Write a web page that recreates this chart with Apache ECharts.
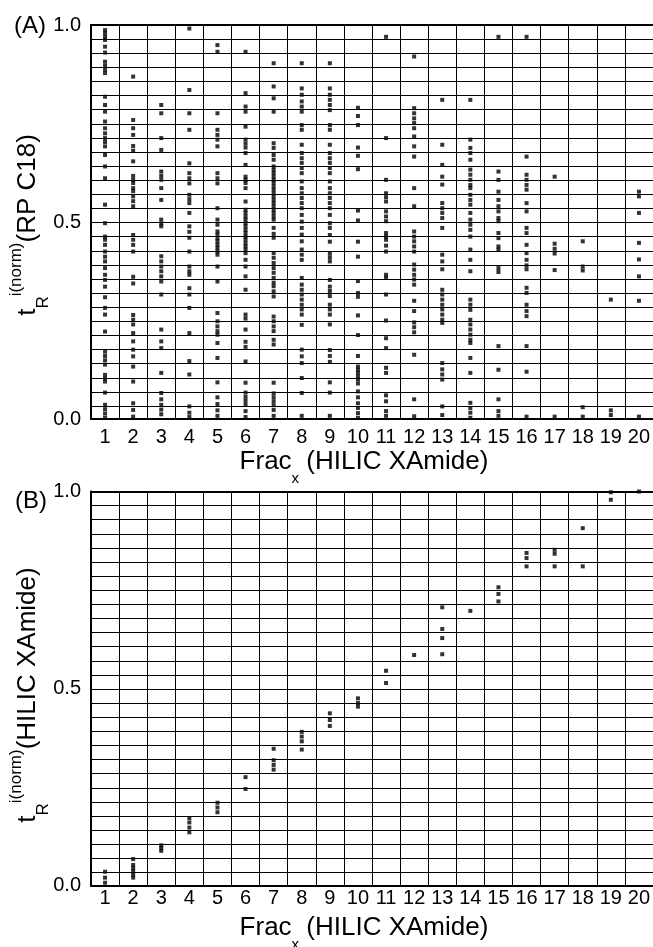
<!DOCTYPE html>
<html lang="en">
  <head>
    <meta charset="UTF-8" />
    <title>normalised retention vs HILIC fraction</title>
    <script src="https://cdn.jsdelivr.net/npm/echarts@6/dist/echarts.min.js"></script>
    <style>
      html, body { margin: 0; padding: 0; background: #fff; }
      #main { width: 653px; height: 947px; }
    </style>
  </head>
  <body>
    <div id="main"></div>
    <script>
      // HILIC XAmide fractions (x categories)
      var fracs = ['1', '2', '3', '4', '5', '6', '7', '8', '9', '10',
        '11', '12', '13', '14', '15', '16', '17', '18', '19', '20'];
      var yTickLabels = ['0.0', '0.5', '1.0'];

      // (A) normalised RP C18 retention of the peptides in each fraction
      var rpA = [
        [0.987, 0.979, 0.970, 0.962, 0.945, 0.930, 0.907, 0.897, 0.887, 0.878, 0.818, 0.797, 0.780, 0.755, 0.738, 0.725, 0.713, 0.703, 0.692, 0.670, 0.641, 0.611, 0.544, 0.497, 0.463, 0.455, 0.442, 0.425, 0.412, 0.400, 0.383, 0.366, 0.353, 0.336, 0.309, 0.282, 0.265, 0.222, 0.171, 0.160, 0.149, 0.138, 0.112, 0.103, 0.095, 0.067, 0.036, 0.025, 0.014, 0.003],
        [0.869, 0.759, 0.738, 0.721, 0.693, 0.681, 0.654, 0.617, 0.607, 0.599, 0.586, 0.578, 0.565, 0.553, 0.540, 0.467, 0.455, 0.442, 0.425, 0.361, 0.344, 0.264, 0.252, 0.240, 0.218, 0.197, 0.176, 0.159, 0.133, 0.095, 0.040, 0.023, 0.006],
        [0.797, 0.776, 0.713, 0.683, 0.628, 0.617, 0.607, 0.586, 0.556, 0.506, 0.496, 0.489, 0.413, 0.400, 0.387, 0.375, 0.362, 0.349, 0.316, 0.227, 0.197, 0.180, 0.117, 0.066, 0.050, 0.036, 0.024, 0.012],
        [0.991, 0.835, 0.776, 0.734, 0.649, 0.624, 0.611, 0.598, 0.569, 0.558, 0.548, 0.523, 0.489, 0.475, 0.460, 0.425, 0.387, 0.375, 0.366, 0.332, 0.316, 0.282, 0.218, 0.147, 0.113, 0.032, 0.016, 0.005],
        [0.949, 0.932, 0.776, 0.734, 0.721, 0.709, 0.692, 0.624, 0.611, 0.598, 0.535, 0.506, 0.493, 0.476, 0.468, 0.459, 0.451, 0.442, 0.434, 0.425, 0.417, 0.387, 0.349, 0.269, 0.248, 0.235, 0.223, 0.214, 0.193, 0.155, 0.093, 0.055, 0.038, 0.022, 0.008],
        [0.932, 0.827, 0.793, 0.780, 0.742, 0.709, 0.699, 0.689, 0.675, 0.645, 0.615, 0.607, 0.599, 0.586, 0.552, 0.531, 0.523, 0.514, 0.506, 0.497, 0.489, 0.480, 0.472, 0.463, 0.455, 0.446, 0.438, 0.430, 0.421, 0.404, 0.387, 0.362, 0.328, 0.265, 0.255, 0.227, 0.196, 0.183, 0.146, 0.092, 0.067, 0.056, 0.046, 0.036, 0.020, 0.005],
        [0.903, 0.844, 0.814, 0.780, 0.700, 0.688, 0.670, 0.658, 0.641, 0.632, 0.624, 0.615, 0.607, 0.599, 0.590, 0.582, 0.573, 0.565, 0.556, 0.548, 0.539, 0.531, 0.523, 0.514, 0.506, 0.485, 0.470, 0.460, 0.421, 0.409, 0.396, 0.383, 0.371, 0.358, 0.346, 0.337, 0.324, 0.311, 0.260, 0.248, 0.235, 0.223, 0.201, 0.189, 0.092, 0.065, 0.055, 0.045, 0.035, 0.023, 0.008],
        [0.903, 0.839, 0.823, 0.806, 0.793, 0.780, 0.746, 0.734, 0.696, 0.675, 0.662, 0.650, 0.637, 0.624, 0.603, 0.586, 0.573, 0.561, 0.548, 0.535, 0.518, 0.501, 0.485, 0.468, 0.451, 0.430, 0.417, 0.404, 0.358, 0.341, 0.328, 0.316, 0.303, 0.290, 0.278, 0.265, 0.239, 0.176, 0.159, 0.142, 0.104, 0.066, 0.008],
        [0.903, 0.839, 0.823, 0.810, 0.797, 0.784, 0.746, 0.734, 0.696, 0.675, 0.662, 0.650, 0.637, 0.624, 0.603, 0.586, 0.573, 0.561, 0.548, 0.535, 0.518, 0.497, 0.485, 0.467, 0.450, 0.420, 0.410, 0.400, 0.353, 0.336, 0.325, 0.312, 0.290, 0.278, 0.265, 0.240, 0.175, 0.160, 0.145, 0.093, 0.067, 0.008],
        [0.790, 0.769, 0.746, 0.689, 0.668, 0.634, 0.529, 0.504, 0.450, 0.412, 0.350, 0.320, 0.310, 0.263, 0.213, 0.160, 0.133, 0.125, 0.117, 0.108, 0.100, 0.090, 0.070, 0.055, 0.040, 0.028, 0.015, 0.003],
        [0.970, 0.713, 0.607, 0.573, 0.563, 0.552, 0.527, 0.514, 0.502, 0.472, 0.463, 0.455, 0.440, 0.425, 0.366, 0.358, 0.316, 0.250, 0.205, 0.180, 0.130, 0.117, 0.060, 0.045, 0.020, 0.008],
        [0.920, 0.789, 0.776, 0.763, 0.751, 0.738, 0.717, 0.692, 0.666, 0.586, 0.540, 0.476, 0.463, 0.451, 0.438, 0.425, 0.392, 0.379, 0.366, 0.354, 0.341, 0.300, 0.274, 0.245, 0.233, 0.220, 0.163, 0.050, 0.007],
        [0.810, 0.696, 0.645, 0.615, 0.595, 0.548, 0.535, 0.523, 0.510, 0.485, 0.417, 0.400, 0.380, 0.328, 0.316, 0.303, 0.290, 0.278, 0.265, 0.252, 0.244, 0.142, 0.126, 0.113, 0.100, 0.032, 0.010],
        [0.810, 0.709, 0.688, 0.675, 0.658, 0.633, 0.620, 0.607, 0.594, 0.586, 0.569, 0.556, 0.544, 0.523, 0.506, 0.493, 0.480, 0.463, 0.430, 0.404, 0.375, 0.303, 0.290, 0.277, 0.252, 0.240, 0.227, 0.214, 0.201, 0.193, 0.155, 0.117, 0.041, 0.028, 0.016, 0.003],
        [0.970, 0.628, 0.607, 0.577, 0.556, 0.540, 0.527, 0.510, 0.502, 0.472, 0.459, 0.438, 0.430, 0.383, 0.373, 0.185, 0.125, 0.050, 0.020, 0.008],
        [0.970, 0.666, 0.620, 0.607, 0.594, 0.582, 0.548, 0.527, 0.485, 0.472, 0.442, 0.421, 0.404, 0.390, 0.380, 0.333, 0.320, 0.290, 0.274, 0.261, 0.185, 0.120, 0.006],
        [0.615, 0.445, 0.432, 0.420, 0.378, 0.006],
        [0.451, 0.387, 0.377, 0.030, 0.006],
        [0.303, 0.022, 0.010],
        [0.577, 0.565, 0.523, 0.447, 0.405, 0.362, 0.300, 0.006]
      ];

      // (B) normalised HILIC XAmide retention of the same peptides
      var hilicB = [
        [0.035, 0.020, 0.007],
        [0.067, 0.052, 0.044, 0.036, 0.028, 0.020],
        [0.088, 0.095, 0.102],
        [0.135, 0.147, 0.160, 0.171],
        [0.186, 0.198, 0.210],
        [0.245, 0.275],
        [0.347, 0.318, 0.306, 0.294],
        [0.390, 0.378, 0.366, 0.345],
        [0.437, 0.420, 0.405],
        [0.475, 0.463, 0.454],
        [0.545, 0.514],
        [0.585],
        [0.706, 0.651, 0.628, 0.587],
        [0.697],
        [0.757, 0.740, 0.721],
        [0.844, 0.831, 0.810],
        [0.852, 0.842, 0.810],
        [0.907, 0.810],
        [0.998, 0.979],
        [1.0]
      ];

      var FONT = '"Liberation Sans", Arial, sans-serif';
      var measureCtx = document.createElement('canvas').getContext('2d');
      function textWidth(s, size) {
        measureCtx.font = size + 'px ' + FONT;
        return measureCtx.measureText(s).width;
      }

      // axis title made of pieces [text, fontSize, baseline shift], centred on (cx, cy)
      function titleGroup(pieces, cx, cy, vertical) {
        var children = [];
        var pos = 0;
        pieces.forEach(function (p) {
          children.push({
            type: 'text',
            x: pos,
            y: p[2],
            style: {
              text: p[0], font: p[1] + 'px ' + FONT, fill: '#000',
              align: 'left', verticalAlign: 'middle',
              textAlign: 'left', textVerticalAlign: 'middle'
            }
          });
          pos += textWidth(p[0], p[1]);
        });
        return vertical
          ? { type: 'group', x: cx, y: cy + pos / 2, rotation: Math.PI / 2, children: children }
          : { type: 'group', x: cx - pos / 2, y: cy, children: children };
      }

      function points(cols) {
        var out = [];
        cols.forEach(function (vals, i) {
          vals.forEach(function (v) { out.push([i, v]); });
        });
        return out;
      }

      var grids = [
        { left: 91, top: 25, width: 562, height: 394 },
        { left: 91, top: 491.5, width: 562, height: 394 }
      ];
      var labelMargin = [8, 3];

      var xAxes = [], yAxes = [];
      grids.forEach(function (g, i) {
        xAxes.push({
          type: 'category', gridIndex: i, data: fracs, boundaryGap: true,
          axisLine: { lineStyle: { color: '#000', width: 2 } },
          axisTick: { show: false },
          axisLabel: { interval: 0, color: '#000', fontSize: 20, fontFamily: FONT, margin: labelMargin[i] },
          splitLine: { show: true, interval: 0, lineStyle: { color: '#000', width: 1 } }
        });
        // top frame line
        xAxes.push({
          type: 'category', gridIndex: i, data: fracs, position: 'top',
          axisLine: { lineStyle: { color: '#000', width: 2 } },
          axisTick: { show: false }, axisLabel: { show: false }, splitLine: { show: false }
        });
        yAxes.push({
          type: 'value', gridIndex: i, min: 0, max: 1, interval: 0.5,
          axisLine: { show: true, lineStyle: { color: '#000', width: 2 } },
          axisTick: { show: false },
          axisLabel: {
            color: '#000', fontSize: 20, fontFamily: FONT, margin: 10,
            formatter: function (v) { return yTickLabels[Math.round(v * 2)]; }
          },
          splitLine: { show: false }
        });
        // horizontal grid rows, counted from the top
        yAxes.push({
          type: 'value', gridIndex: i, min: 0, max: 27.92, interval: 1, inverse: true,
          position: 'right',
          axisLine: { show: false }, axisTick: { show: false }, axisLabel: { show: false },
          splitLine: { show: true, lineStyle: { color: '#000', width: 1 } }
        });
      });

      var option = {
        backgroundColor: '#fff',
        animation: false,
        grid: grids.map(function (g) {
          return Object.assign({ containLabel: false, outerBoundsMode: 'none' }, g);
        }),
        xAxis: xAxes,
        yAxis: yAxes,
        series: [
          {
            type: 'scatter', xAxisIndex: 0, yAxisIndex: 0, data: points(rpA),
            symbol: 'rect', symbolSize: 4, itemStyle: { color: '#000' }, silent: true
          },
          {
            type: 'scatter', xAxisIndex: 2, yAxisIndex: 2, data: points(hilicB),
            symbol: 'rect', symbolSize: 4, itemStyle: { color: '#000' }, silent: true
          }
        ],
        graphic: [
          { type: 'text', x: 14, y: 26, style: { text: '(A)', font: '24px ' + FONT, fill: '#000', verticalAlign: 'middle', textVerticalAlign: 'middle' } },
          { type: 'text', x: 15, y: 501, style: { text: '(B)', font: '24px ' + FONT, fill: '#000', verticalAlign: 'middle', textVerticalAlign: 'middle' } },
          titleGroup([['Frac', 26, 0], ['x', 15, 17], [' (HILIC XAmide)', 26, 0]], 364, 462, false),
          titleGroup([['Frac', 26, 0], ['x', 15, 17], [' (HILIC XAmide)', 26, 0]], 364, 928, false),
          titleGroup([['t', 26, 0], ['R', 17, 15], ['i(norm)', 17, -12], ['(RP C18)', 26, 0]], 28, 225, true),
          titleGroup([['t', 26, 0], ['R', 17, 15], ['i(norm)', 17, -12], ['(HILIC XAmide)', 26, 0]], 28, 695, true)
        ]
      };

      var chart = echarts.init(document.getElementById('main'));
      chart.setOption(option);
    </script>
  </body>
</html>
